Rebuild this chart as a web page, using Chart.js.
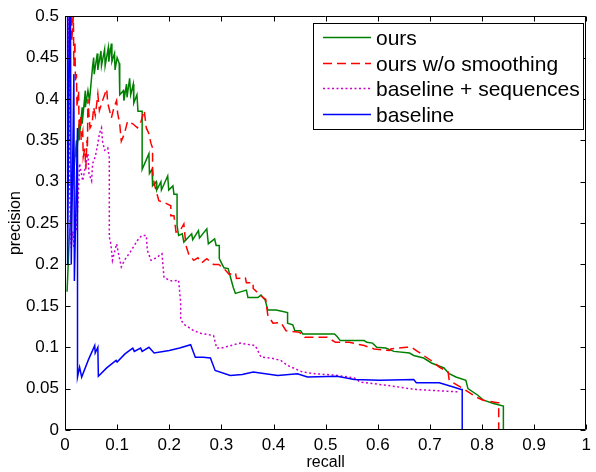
<!DOCTYPE html>
<html>
<head>
<meta charset="utf-8">
<script src="https://cdn.jsdelivr.net/npm/chart.js@4.4.0/dist/chart.umd.min.js"></script>
<style>
body { margin: 0; background: #fff; }
canvas { display: block; }
</style>
</head>
<body>
<canvas id="prChart" width="596" height="472"></canvas>
<script>
var xTicks = [0, 0.1, 0.2, 0.3, 0.4, 0.5, 0.6, 0.7, 0.8, 0.9, 1];
var yTicks = [0, 0.05, 0.1, 0.15, 0.2, 0.25, 0.3, 0.35, 0.4, 0.45, 0.5];
var seriesNames = ["ours", "ours w/o smoothing", "baseline + sequences", "baseline"];

var oursRecall = [0.004, 0.008, 0.013, 0.018, 0.022, 0.022, 0.027, 0.027, 0.033, 0.033, 0.039, 0.039, 0.044, 0.047, 0.053, 0.055, 0.056, 0.062, 0.063, 0.069, 0.07, 0.076, 0.077, 0.083, 0.084, 0.089, 0.09, 0.095, 0.096, 0.1, 0.104, 0.105, 0.112, 0.113, 0.118, 0.119, 0.124, 0.126, 0.131, 0.132, 0.138, 0.14, 0.148, 0.148, 0.161, 0.162, 0.167, 0.168, 0.175, 0.176, 0.184, 0.185, 0.197, 0.199, 0.207, 0.209, 0.215, 0.215, 0.218, 0.225, 0.228, 0.243, 0.245, 0.256, 0.258, 0.272, 0.275, 0.287, 0.29, 0.296, 0.296, 0.3, 0.305, 0.313, 0.319, 0.323, 0.327, 0.348, 0.351, 0.37, 0.376, 0.384, 0.389, 0.405, 0.427, 0.427, 0.437, 0.441, 0.452, 0.456, 0.517, 0.522, 0.528, 0.574, 0.579, 0.59, 0.598, 0.615, 0.631, 0.661, 0.669, 0.688, 0.703, 0.727, 0.737, 0.75, 0.769, 0.773, 0.792, 0.803, 0.822, 0.841, 0.841];
var oursPrecision = [0.167, 0.23, 0.28, 0.32, 0.35, 0.33, 0.37, 0.35, 0.39, 0.37, 0.41, 0.39, 0.41, 0.398, 0.44, 0.45, 0.43, 0.455, 0.435, 0.458, 0.44, 0.46, 0.44, 0.462, 0.445, 0.467, 0.445, 0.455, 0.435, 0.45, 0.443, 0.405, 0.41, 0.398, 0.418, 0.402, 0.425, 0.405, 0.418, 0.395, 0.405, 0.385, 0.385, 0.315, 0.334, 0.31, 0.315, 0.295, 0.3, 0.29, 0.3, 0.29, 0.307, 0.29, 0.295, 0.285, 0.285, 0.247, 0.235, 0.237, 0.227, 0.237, 0.23, 0.241, 0.232, 0.243, 0.225, 0.231, 0.223, 0.223, 0.207, 0.202, 0.196, 0.195, 0.181, 0.172, 0.165, 0.169, 0.16, 0.16, 0.163, 0.157, 0.145, 0.145, 0.142, 0.129, 0.127, 0.12, 0.12, 0.116, 0.116, 0.113, 0.108, 0.108, 0.106, 0.105, 0.1, 0.099, 0.095, 0.093, 0.09, 0.087, 0.081, 0.075, 0.068, 0.064, 0.06, 0.05, 0.042, 0.036, 0.032, 0.029, 0];

var noSmoothRecall = [0.012, 0.013, 0.016, 0.017, 0.019, 0.02, 0.022, 0.023, 0.026, 0.027, 0.03, 0.031, 0.034, 0.035, 0.038, 0.04, 0.042, 0.043, 0.044, 0.046, 0.048, 0.052, 0.055, 0.058, 0.061, 0.063, 0.066, 0.072, 0.08, 0.082, 0.089, 0.094, 0.099, 0.101, 0.105, 0.108, 0.114, 0.12, 0.13, 0.139, 0.146, 0.152, 0.156, 0.161, 0.165, 0.168, 0.168, 0.171, 0.18, 0.19, 0.203, 0.203, 0.209, 0.213, 0.22, 0.228, 0.232, 0.237, 0.247, 0.255, 0.262, 0.272, 0.285, 0.295, 0.308, 0.315, 0.327, 0.329, 0.346, 0.348, 0.361, 0.361, 0.38, 0.385, 0.389, 0.399, 0.414, 0.424, 0.45, 0.46, 0.503, 0.519, 0.545, 0.574, 0.593, 0.623, 0.625, 0.655, 0.665, 0.674, 0.688, 0.707, 0.718, 0.735, 0.737, 0.764, 0.788, 0.802, 0.83, 0.832, 0.832];
var noSmoothPrecision = [0.55, 0.47, 0.5, 0.44, 0.47, 0.42, 0.43, 0.39, 0.41, 0.37, 0.38, 0.35, 0.36, 0.33, 0.34, 0.315, 0.35, 0.34, 0.4, 0.38, 0.365, 0.37, 0.39, 0.38, 0.395, 0.406, 0.386, 0.398, 0.412, 0.395, 0.377, 0.39, 0.398, 0.383, 0.37, 0.349, 0.358, 0.373, 0.37, 0.365, 0.373, 0.386, 0.365, 0.358, 0.346, 0.341, 0.313, 0.298, 0.277, 0.275, 0.271, 0.259, 0.259, 0.239, 0.24, 0.249, 0.223, 0.213, 0.205, 0.208, 0.202, 0.207, 0.2, 0.2, 0.193, 0.188, 0.19, 0.183, 0.184, 0.178, 0.178, 0.171, 0.16, 0.158, 0.139, 0.129, 0.13, 0.12, 0.118, 0.112, 0.112, 0.106, 0.106, 0.102, 0.098, 0.096, 0.098, 0.1, 0.1, 0.096, 0.09, 0.082, 0.076, 0.07, 0.06, 0.05, 0.04, 0.036, 0.033, 0.033, 0];

var seqRecall = [0.006, 0.007, 0.008, 0.009, 0.01, 0.012, 0.015, 0.017, 0.02, 0.022, 0.026, 0.028, 0.034, 0.038, 0.044, 0.046, 0.051, 0.053, 0.058, 0.063, 0.066, 0.07, 0.072, 0.076, 0.082, 0.085, 0.085, 0.088, 0.091, 0.099, 0.102, 0.108, 0.114, 0.125, 0.139, 0.147, 0.156, 0.158, 0.165, 0.175, 0.186, 0.19, 0.205, 0.218, 0.222, 0.222, 0.23, 0.247, 0.26, 0.285, 0.291, 0.3, 0.336, 0.365, 0.376, 0.395, 0.414, 0.427, 0.456, 0.48, 0.522, 0.555, 0.566, 0.617, 0.661, 0.674, 0.756];
var seqPrecision = [0.6, 0.45, 0.5, 0.3, 0.25, 0.22, 0.24, 0.22, 0.26, 0.24, 0.29, 0.322, 0.301, 0.315, 0.334, 0.31, 0.301, 0.322, 0.33, 0.346, 0.358, 0.365, 0.349, 0.338, 0.341, 0.329, 0.233, 0.225, 0.205, 0.225, 0.215, 0.197, 0.205, 0.215, 0.229, 0.235, 0.235, 0.217, 0.205, 0.208, 0.213, 0.184, 0.18, 0.181, 0.153, 0.133, 0.127, 0.12, 0.117, 0.114, 0.099, 0.099, 0.105, 0.102, 0.088, 0.087, 0.084, 0.078, 0.07, 0.068, 0.066, 0.063, 0.058, 0.054, 0.05, 0.049, 0.046];

var baseRecall = [0, 0, 0.005, 0.005, 0.01, 0.012, 0.017, 0.018, 0.024, 0.024, 0.028, 0.032, 0.045, 0.057, 0.058, 0.063, 0.064, 0.08, 0.098, 0.1, 0.115, 0.13, 0.133, 0.145, 0.148, 0.161, 0.171, 0.2, 0.22, 0.241, 0.25, 0.265, 0.279, 0.288, 0.317, 0.34, 0.361, 0.408, 0.446, 0.465, 0.522, 0.555, 0.604, 0.669, 0.674, 0.718, 0.745, 0.76, 0.762, 0.762];
var basePrecision = [0, 1, 1, 0.2, 0.6, 0.2, 0.43, 0.18, 0.365, 0.064, 0.076, 0.064, 0.085, 0.102, 0.093, 0.1, 0.065, 0.075, 0.084, 0.082, 0.092, 0.099, 0.095, 0.099, 0.095, 0.1, 0.093, 0.096, 0.099, 0.103, 0.088, 0.088, 0.087, 0.072, 0.066, 0.067, 0.07, 0.066, 0.068, 0.064, 0.065, 0.061, 0.06, 0.061, 0.057, 0.057, 0.052, 0.049, 0.049, 0];

var lineColors = ["#008000", "#ff0000", "#cc00cc", "#0000ff"];
var lineDashes = [[], [9, 5], [2, 2.5], []];

function zip(xs, ys) {
    return xs.map(function (x, i) { return { x: x, y: ys[i] }; });
}

function fmt(v) {
    return String(Number(v.toFixed(2)));
}

var tickFont = { family: "'Liberation Sans', Arial, sans-serif", size: 17 };
var titleFont = { family: "'Liberation Sans', Arial, sans-serif", size: 16 };

// MATLAB style box with inward ticks on all four sides
var boxPlugin = {
    id: 'matlabBox',
    afterDatasetsDraw: function (chart) {
        var ctx = chart.ctx, a = chart.chartArea;
        var xs = chart.scales.x, ys = chart.scales.y;
        var L = Math.round(a.left) + 0.5, R = Math.round(a.right) - 0.5;
        var T = Math.round(a.top) + 0.5, B = Math.round(a.bottom) - 0.5;
        ctx.save();
        ctx.strokeStyle = '#000';
        ctx.lineWidth = 1;
        ctx.beginPath();
        ctx.rect(L, T, R - L, B - T);
        xTicks.forEach(function (v) {
            var p = Math.round(xs.getPixelForValue(v)) + 0.5;
            ctx.moveTo(p, B); ctx.lineTo(p, B - 5);
            ctx.moveTo(p, T); ctx.lineTo(p, T + 5);
        });
        yTicks.forEach(function (v) {
            var p = Math.round(ys.getPixelForValue(v)) + 0.5;
            ctx.moveTo(L, p); ctx.lineTo(L + 5, p);
            ctx.moveTo(R, p); ctx.lineTo(R - 5, p);
        });
        ctx.stroke();
        ctx.restore();
    }
};

var legendPlugin = {
    id: 'prLegend',
    afterDraw: function (chart) {
        var ctx = chart.ctx;
        var bx = 313.5, by = 23.5, bw = 270, bh = 106;
        ctx.save();
        ctx.fillStyle = '#fff';
        ctx.fillRect(bx, by, bw, bh);
        ctx.strokeStyle = '#000';
        ctx.lineWidth = 1;
        ctx.strokeRect(bx, by, bw, bh);
        ctx.font = "21px 'Liberation Sans', Arial, sans-serif";
        ctx.textBaseline = 'alphabetic';
        ctx.textAlign = 'left';
        chart.data.datasets.forEach(function (ds, i) {
            var base = 45 + i * 25.6;
            var ly = Math.round(base - 8) + 0.5;
            ctx.strokeStyle = ds.borderColor;
            ctx.lineWidth = ds.borderWidth;
            ctx.setLineDash(ds.borderDash || []);
            ctx.beginPath();
            ctx.moveTo(323, ly);
            ctx.lineTo(371, ly);
            ctx.stroke();
            ctx.setLineDash([]);
            ctx.fillStyle = '#000';
            ctx.fillText(ds.label, 376, base);
        });
        ctx.restore();
    }
};

var recalls = [oursRecall, noSmoothRecall, seqRecall, baseRecall];
var precisions = [oursPrecision, noSmoothPrecision, seqPrecision, basePrecision];

var datasets = seriesNames.map(function (name, i) {
    return {
        label: name,
        data: zip(recalls[i], precisions[i]),
        showLine: true,
        borderColor: lineColors[i],
        backgroundColor: lineColors[i],
        borderWidth: 1.5,
        borderDash: lineDashes[i],
        pointRadius: 0,
        pointHoverRadius: 0,
        tension: 0,
        order: 3 - i
    };
});

var prChart = new Chart(document.getElementById('prChart'), {
    type: 'scatter',
    data: { datasets: datasets },
    options: {
        responsive: false,
        animation: false,
        layout: { padding: { top: 15, right: 4, left: 0, bottom: 0 } },
        plugins: {
            legend: { display: false },
            tooltip: { enabled: false }
        },
        scales: {
            x: {
                type: 'linear',
                min: 0,
                max: 1,
                afterBuildTicks: function (s) { s.ticks = xTicks.map(function (v) { return { value: v }; }); },
                afterFit: function (s) { s.height = 42; },
                grid: { display: false, drawTicks: false },
                border: { display: false },
                ticks: {
                    color: '#000',
                    font: tickFont,
                    padding: 5,
                    maxRotation: 0,
                    autoSkip: false,
                    callback: function (v) { return fmt(v); }
                },
                title: { display: true, text: 'recall', color: '#000', font: titleFont, padding: { top: 0, bottom: 0 } }
            },
            y: {
                type: 'linear',
                min: 0,
                max: 0.5,
                afterBuildTicks: function (s) { s.ticks = yTicks.map(function (v) { return { value: v }; }); },
                afterFit: function (s) { s.width = 65; },
                grid: { display: false, drawTicks: false },
                border: { display: false },
                ticks: {
                    color: '#000',
                    font: tickFont,
                    padding: 6,
                    autoSkip: false,
                    callback: function (v) { return fmt(v); }
                },
                title: { display: true, text: 'precision', color: '#000', font: titleFont, padding: { top: 6, bottom: 0 } }
            }
        }
    },
    plugins: [boxPlugin, legendPlugin]
});
</script>
</body>
</html>
